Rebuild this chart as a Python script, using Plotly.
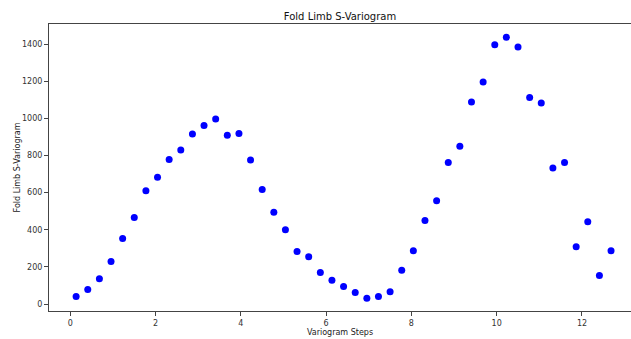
import plotly.graph_objects as go

steps = [0.136, 0.409, 0.682, 0.955, 1.227, 1.500, 1.773, 2.045, 2.318, 2.591,
         2.864, 3.136, 3.409, 3.682, 3.955, 4.227, 4.500, 4.773, 5.045, 5.318,
         5.591, 5.864, 6.136, 6.409, 6.682, 6.955, 7.227, 7.500, 7.773, 8.045,
         8.318, 8.591, 8.864, 9.136, 9.409, 9.682, 9.955, 10.227, 10.500, 10.773,
         11.045, 11.318, 11.591, 11.864, 12.136, 12.409, 12.682]
semivariance = [41, 79, 136, 230, 353, 466, 611, 683, 778, 830,
                916, 962, 997, 909, 918, 776, 617, 495, 400, 283,
                255, 170, 129, 95, 63, 32, 41, 67, 183, 287,
                450, 557, 763, 850, 1088, 1196, 1396, 1437, 1384, 1113,
                1083, 733, 763, 309, 443, 154, 287]

x_ticks = [0, 2, 4, 6, 8, 10, 12]
y_ticks = [0, 200, 400, 600, 800, 1000, 1200, 1400]

font = "DejaVu Sans"
fig = go.Figure(go.Scatter(
    x=steps, y=semivariance, mode="markers",
    marker=dict(color="#0000ff", size=7, line=dict(width=0)),
))

axis_common = dict(
    showline=True, linecolor="#444", linewidth=1,
    showgrid=False, zeroline=False, ticks="outside", ticklen=4,
    tickcolor="#444", tickfont=dict(family=font, size=8, color="#333"),
)

fig.update_layout(
    width=631, height=339,
    margin=dict(l=49, r=0, t=24, b=28),
    paper_bgcolor="white", plot_bgcolor="white",
    showlegend=False,
    title=dict(text="Fold Limb S-Variogram", x=0.5, xref="paper",
               y=1 - 16 / 339, yref="container", yanchor="middle",
               font=dict(family=font, size=10, color="#111")),
    xaxis=dict(range=[-0.5, 13.15], tickvals=x_ticks, mirror=True,
               title=dict(text="Variogram Steps", standoff=2,
                          font=dict(family=font, size=8, color="#222")),
               **axis_common),
    yaxis=dict(range=[-37, 1508], tickvals=y_ticks, mirror=False,
               title=dict(text="Fold Limb S-Variogram", standoff=0,
                          font=dict(family=font, size=8, color="#222")),
               **axis_common),
)

fig.write_html("out.html")
